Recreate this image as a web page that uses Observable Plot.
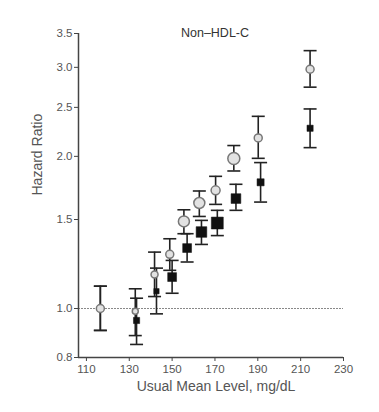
<!DOCTYPE html>
<html><head><meta charset="utf-8">
<script src="https://cdn.jsdelivr.net/npm/d3@7"></script>
<script src="https://cdn.jsdelivr.net/npm/@observablehq/plot@0.6"></script>
<style>body{margin:0;background:#fff;}</style>
</head><body><div id="chart"></div>
<script>
const grayLevel = [116.5, 132.8, 141.8, 148.9, 155.5, 162.7, 170.3, 178.8, 190.2, 214.4];
const grayHR    = [1.0, 0.988, 1.168, 1.280, 1.487, 1.617, 1.713, 1.980, 2.175, 2.974];
const grayLo    = [0.905, 0.884, 1.056, 1.190, 1.406, 1.521, 1.607, 1.871, 1.982, 2.741];
const grayHi    = [1.107, 1.094, 1.293, 1.374, 1.568, 1.708, 1.826, 2.101, 2.400, 3.237];
const grayWeight = [8, 6, 7, 8, 11, 11, 9, 12, 8, 8];

const blackLevel = [116.5, 133.4, 142.7, 150.0, 157.0, 163.7, 171.1, 179.8, 191.3, 214.4];
const blackHR    = [1.0, 0.947, 1.082, 1.154, 1.317, 1.417, 1.476, 1.650, 1.777, 2.273];
const blackLo    = [0.905, 0.849, 0.976, 1.072, 1.236, 1.339, 1.394, 1.564, 1.624, 2.081];
const blackHi    = [1.107, 1.048, 1.202, 1.245, 1.406, 1.494, 1.564, 1.761, 1.944, 2.482];
const blackWeight = [0, 7, 6, 10, 10, 12, 13.5, 11, 8, 7];

const xTicks = [110, 130, 150, 170, 190, 210, 230];
const yTicks = [0.8, 1.0, 1.5, 2.0, 2.5, 3.0, 3.5];
const title = "Non–HDL-C";
const xLabel = "Usual Mean Level, mg/dL";
const yLabel = "Hazard Ratio";

const gray = grayLevel.map((x, i) => ({x, hr: grayHR[i], lo: grayLo[i], hi: grayHi[i], w: grayWeight[i]}));
const black = blackLevel.map((x, i) => ({x, hr: blackHR[i], lo: blackLo[i], hi: blackHi[i], w: blackWeight[i]}));
const bars = [...black, ...gray];

const cap = {draw(ctx, size) { const w = Math.sqrt(size / Math.PI); ctx.moveTo(-w, 0); ctx.lineTo(w, 0); }};

const chart = Plot.plot({
  width: 379, height: 412,
  marginLeft: 78, marginRight: 36, marginTop: 33, marginBottom: 55,
  style: {fontFamily: "'Liberation Sans', Arial, sans-serif", fontSize: "11px", color: "#555", background: "#fff"},
  x: {domain: [106.3, 230]},
  y: {type: "log", domain: [0.8, 3.5]},
  r: {type: "linear", domain: [0, 12], range: [0, 6]},
  marks: [
    Plot.ruleY([1], {stroke: "#888", strokeWidth: 1, strokeDasharray: "2,1"}),
    Plot.ruleX(bars, {x: "x", y1: "lo", y2: "hi", stroke: "#222", strokeWidth: 1.6}),
    Plot.dot(bars, {x: "x", y: "lo", symbol: cap, r: 6.5, stroke: "#222", strokeWidth: 1.6}),
    Plot.dot(bars, {x: "x", y: "hi", symbol: cap, r: 6.5, stroke: "#222", strokeWidth: 1.6}),
    Plot.dot(gray, {x: "x", y: "hr", r: "w", fill: "#e2e2e2", stroke: "#777", strokeWidth: 1.5}),
    Plot.dot(black, {x: "x", y: "hr", r: "w", symbol: "square", fill: "#111", stroke: "#111", strokeWidth: 0.5}),
    Plot.ruleX([106.3], {y1: 0.8, y2: 3.5, stroke: "#444", strokeWidth: 1.5}),
    Plot.ruleY([0.8], {x1: 106.3, x2: 230, stroke: "#444", strokeWidth: 1.5}),
    Plot.axisX({ticks: xTicks, tickSize: 4, tickPadding: 3, tickFormat: d3.format("d"), stroke: "#444", fontSize: 11.5, label: null}),
    Plot.axisY({ticks: yTicks, tickSize: 4, tickPadding: 2, tickFormat: d3.format(".1f"), stroke: "#444", fontSize: 11.5, label: null}),
    Plot.text([xLabel], {frameAnchor: "bottom", dy: 33, dx: 5, fill: "#555", fontSize: 14}),
    Plot.text([yLabel], {frameAnchor: "left", dx: -41, rotate: -90, fill: "#555", fontSize: 14}),
    Plot.text([title], {frameAnchor: "top", dy: -5, dx: 4, fill: "#333", fontSize: 12.5})
  ]
});
document.getElementById("chart").appendChild(chart);
</script>
</body></html>
